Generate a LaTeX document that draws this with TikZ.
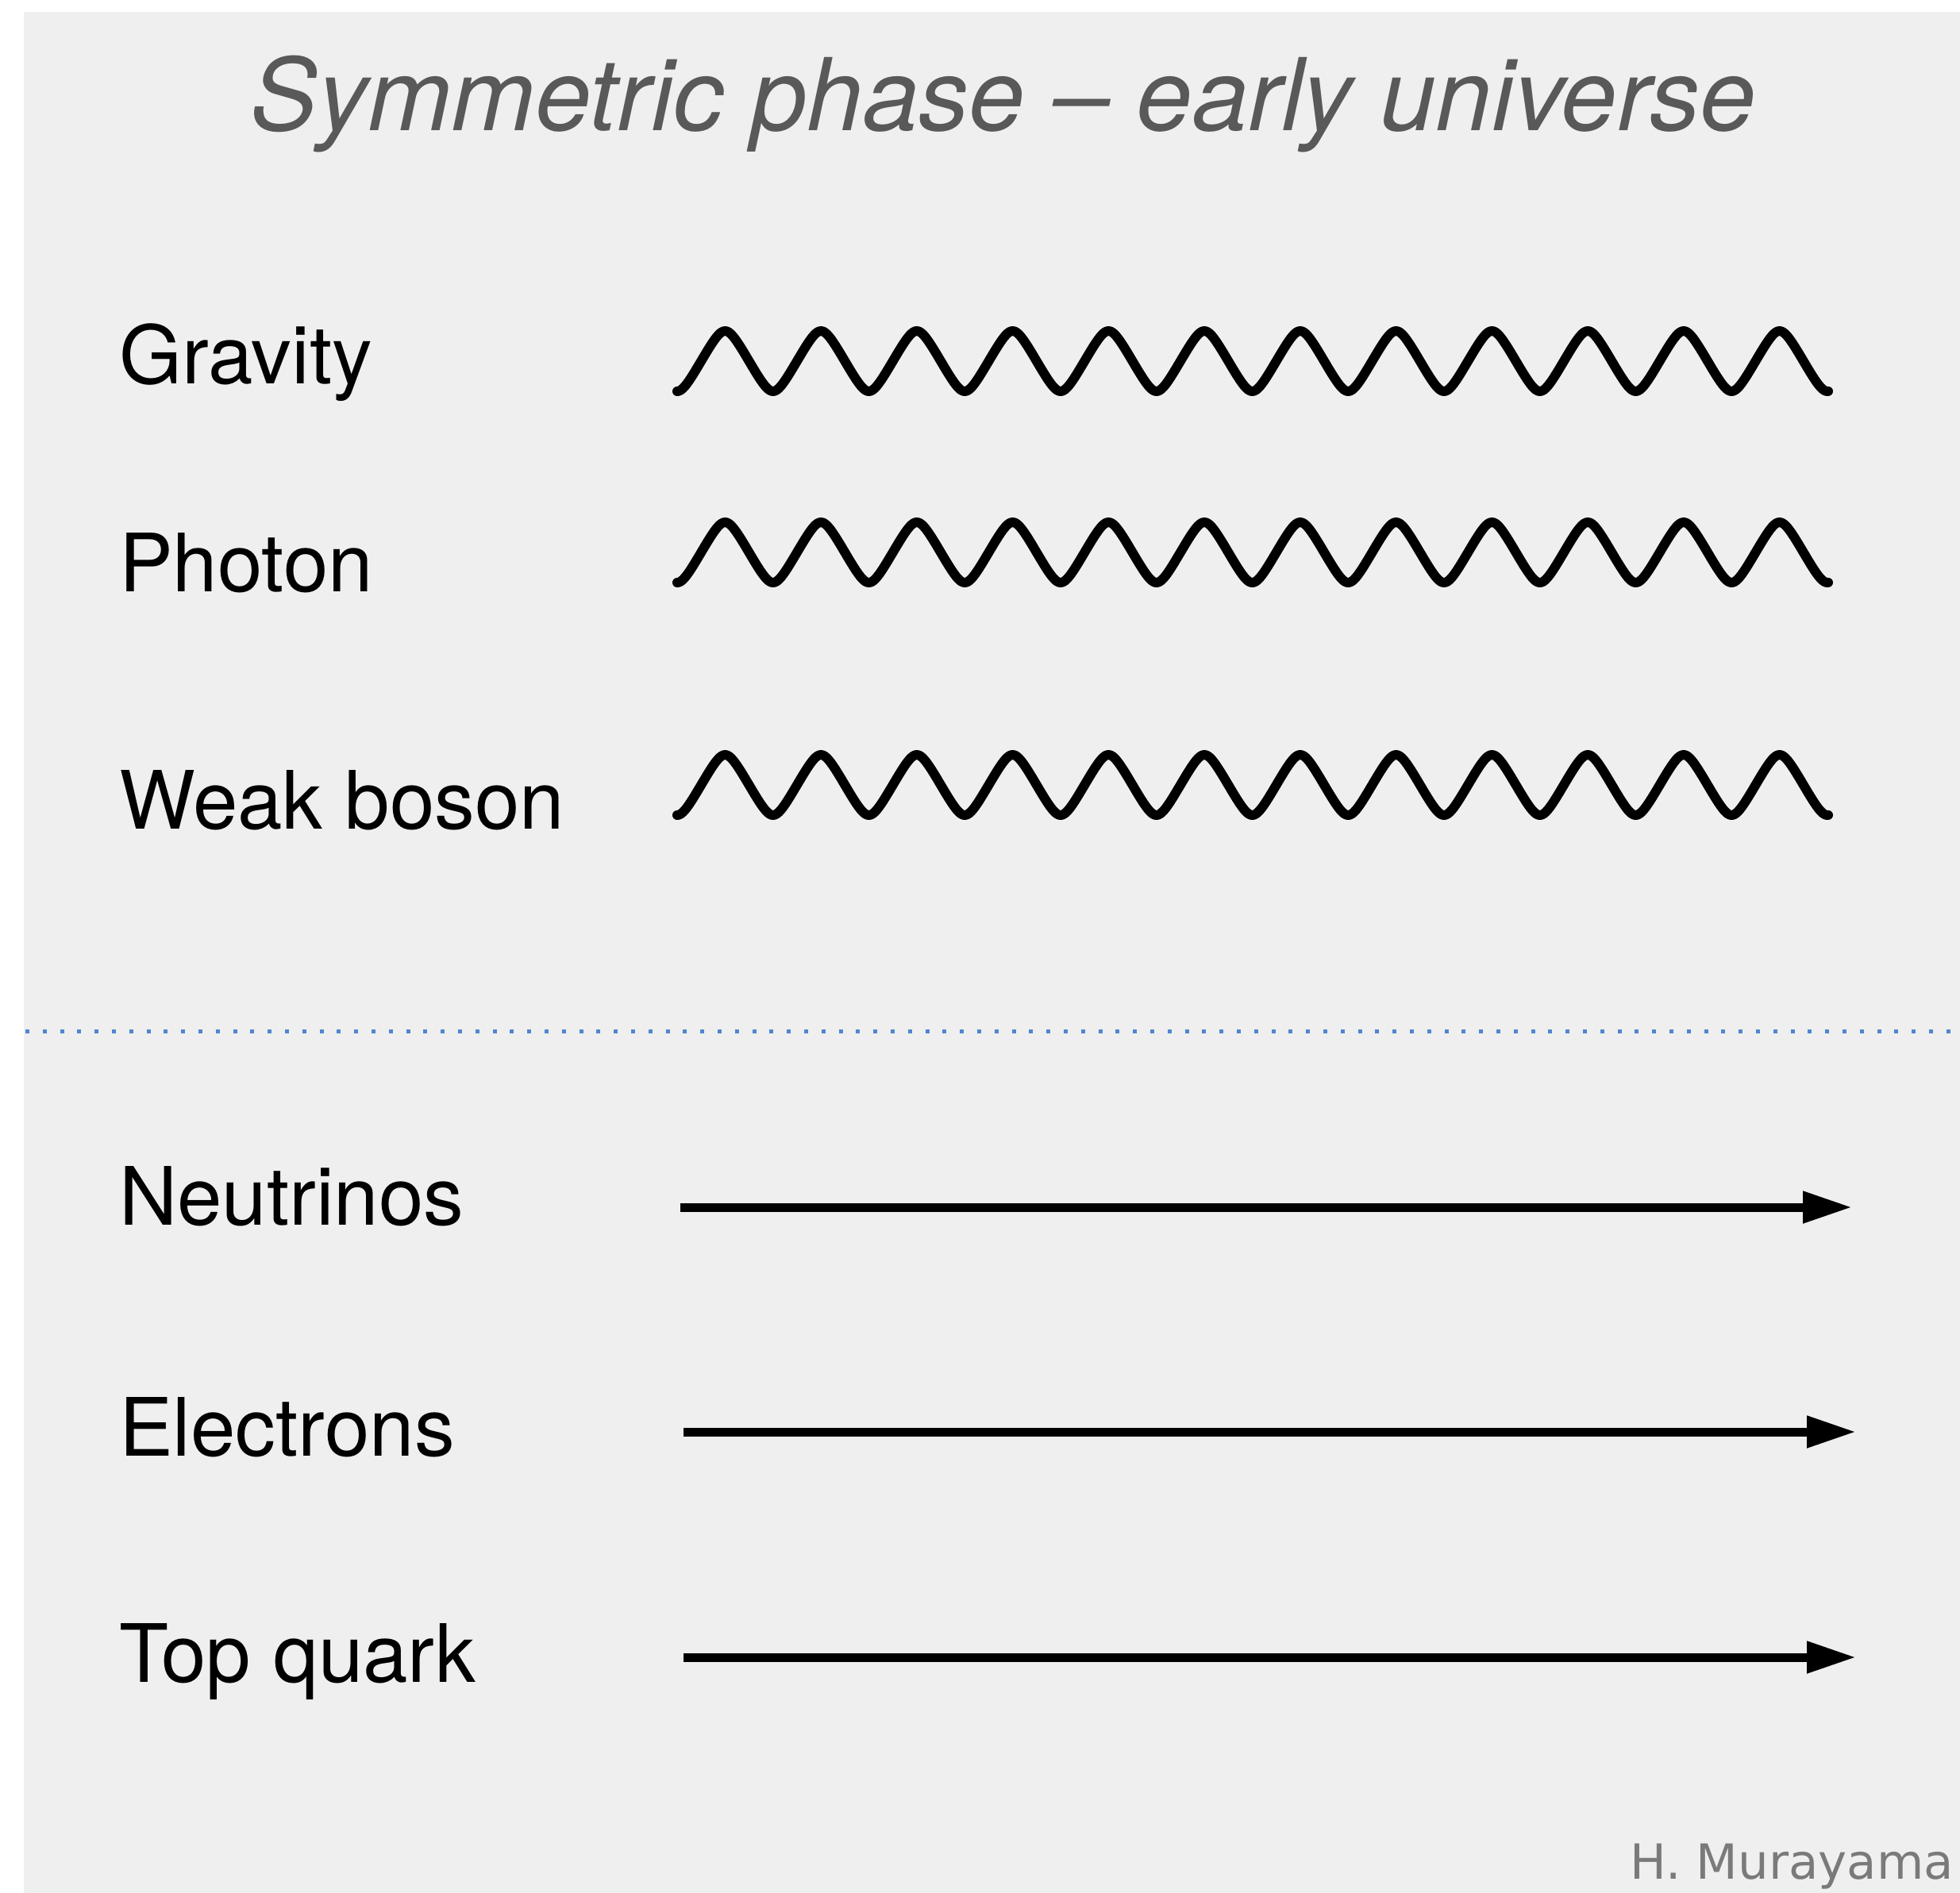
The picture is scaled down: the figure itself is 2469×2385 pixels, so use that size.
\documentclass[tikz,border=0pt]{standalone}
\usepackage{fontspec}
\setmainfont{TeX Gyre Heros}
\newfontfamily\creditfont{DejaVu Sans}
\usetikzlibrary{arrows.meta}
\definecolor{bggray}{HTML}{EFEFEF}
\definecolor{titlegray}{HTML}{595959}
\definecolor{creditgray}{HTML}{7A7A7A}
\definecolor{dotblue}{HTML}{4F86D0}
\tikzset{
  lbl/.style={anchor=base west, inner sep=0pt, font=\fontsize{101.5}{112}\selectfont, text=black},
  wave/.style={line width=12pt, line cap=round, line join=round, black},
  particle/.style={line width=11pt, black, -{Triangle[length=62pt,width=38pt]}},
  sep/.style={dotblue, line width=5pt, dash pattern=on 5pt off 16.8pt}
}
\newcommand{\wavepath}[1]{% #1 = centre y
  plot[domain=0:1450, samples=600, smooth] ({\x+853}, {#1 + 38*asin(0.82*cos(\x/120.75*360))/asin(0.82)})}
\begin{document}
\begin{tikzpicture}[x=1pt,y=-1pt]
\useasboundingbox (0,0) rectangle (2469,2385);
\fill[bggray] (30,15) rectangle (2469,2385);

\node[anchor=base, inner sep=0pt, text=titlegray, font=\fontsize{126.5}{140}\selectfont\itshape] (title) at (1264,164) {Symmetric phase -- early universe};

\node[lbl] (grav) at (150,483) {Gravity};
\node[lbl] (phot) at (150,745) {Photon};
\node[lbl] (weak) at (150,1044) {Weak boson};
\node[lbl] (neut) at (150,1543) {Neutrinos};
\node[lbl] (elec) at (150,1834) {Electrons};
\node[lbl] (topq) at (150,2119) {Top quark};

\draw[wave] \wavepath{455};
\draw[wave] \wavepath{696};
\draw[wave] \wavepath{989};

\coordinate (sepL) at (32,1299);
\coordinate (sepR) at (2469,1299);
\draw[sep] (sepL) -- (sepR);

\coordinate (n1) at (857,1521); \coordinate (n2) at (2333,1521);
\coordinate (e1) at (861,1804); \coordinate (e2) at (2338,1804);
\coordinate (t1) at (861,2088); \coordinate (t2) at (2338,2088);
\draw[particle] (n1) -- (n2);
\draw[particle] (e1) -- (e2);
\draw[particle] (t1) -- (t2);

\node[anchor=base east, inner sep=0pt, text=creditgray, font=\creditfont\fontsize{61}{70}\selectfont] (credit) at (2461,2367) {H. Murayama};
\end{tikzpicture}
\end{document}
